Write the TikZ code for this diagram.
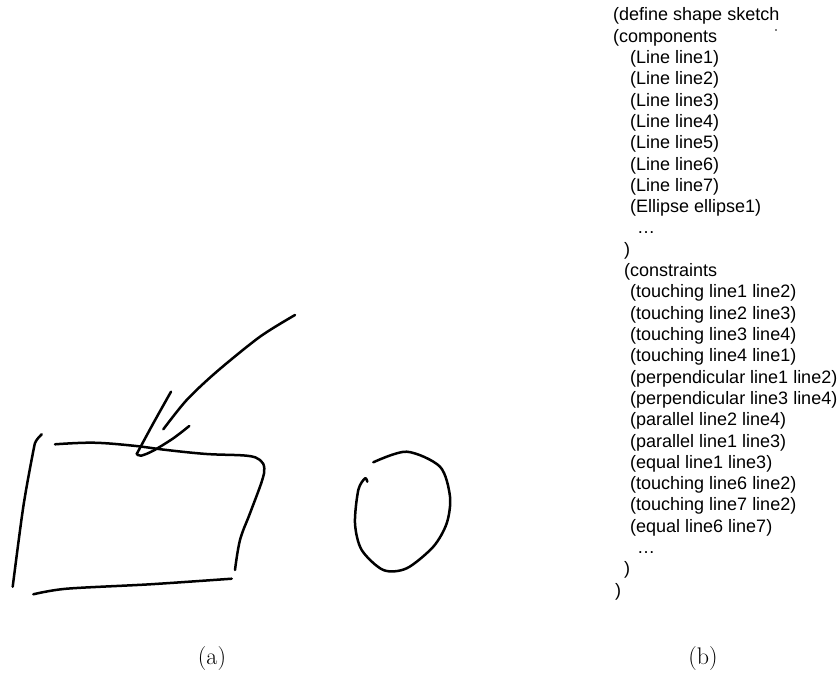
\documentclass[tikz,border=0pt]{standalone}
\usepackage{fontspec}
\newfontfamily\codefont{Liberation Sans}
\begin{document}
\begin{tikzpicture}[x=1pt,y=-1pt,
  ink/.style={line width=2.5pt, line cap=round, line join=round},
  codeline/.style={anchor=base west, inner sep=0pt, font=\codefont\fontsize{18}{21}\selectfont},
  caption/.style={anchor=base, inner sep=0pt, font=\fontsize{24}{28}\selectfont}]
\useasboundingbox (0,0) rectangle (840,692);
% ---- sketch (a) ----
% left side
\draw[ink] plot[smooth] coordinates {(41.7,434.3) (36,441) (33.3,451) (23.3,506.7) (12.7,586.7)};
% top side and right side
\draw[ink] plot[smooth, tension=0.6] coordinates {(55,444.3) (93.3,442.7) (133.3,445.7) (166.7,450) (206.7,454) (246.7,455.7) (260,460) (264.3,468.3) (261.7,481.7) (250,513.3) (240,540) (235,570)};
% bottom side
\draw[ink] plot[smooth] coordinates {(33.3,594.3) (66.7,588.7) (150,584.3) (231.7,578.7)};
% arrow shaft
\draw[ink] plot[smooth] coordinates {(295,315) (260,336.7) (216.7,371.7) (186.7,400) (163.3,429.3)};
% arrow head
\draw[ink] plot[smooth] coordinates {(171,391.7) (153.3,423.3) (136.7,454)};
\draw[ink] plot[smooth] coordinates {(136.7,454) (141,455.7) (153.3,450.7) (173.3,438.3) (189.3,426)};
% ellipse stroke
\draw[ink] plot[smooth] coordinates {(373.3,462.3) (406.7,451.7) (440,466.7) (450,496.7) (446.7,523.3) (433.3,546.7) (406.7,568.3) (383.3,570) (361.7,550) (355,523.3) (358.3,490) (365,478.3) (367.3,481.7)};
% small speck in the scan
\fill (776,30) circle (0.8);
% ---- text (b) ----
\node[codeline] (t1)  at (613,21.0)  {(define shape sketch};
\node[codeline] (t2)  at (613,42.3)  {(components};
\node[codeline] (t3)  at (630,63.6)  {(Line line1)};
\node[codeline] (t4)  at (630,84.9)  {(Line line2)};
\node[codeline] (t5)  at (630,106.2) {(Line line3)};
\node[codeline] (t6)  at (630,127.5) {(Line line4)};
\node[codeline] (t7)  at (630,148.8) {(Line line5)};
\node[codeline] (t8)  at (630,170.1) {(Line line6)};
\node[codeline] (t9)  at (630,191.4) {(Line line7)};
\node[codeline] (t10) at (630,212.7) {(Ellipse ellipse1)};
\node[codeline] (t11) at (637,234.0) {\dots};
\node[codeline] (t12) at (624,255.3) {)};
\node[codeline] (t13) at (624,276.6) {(constraints};
\node[codeline] (t14) at (630,297.9) {(touching line1 line2)};
\node[codeline] (t15) at (630,319.2) {(touching line2 line3)};
\node[codeline] (t16) at (630,340.5) {(touching line3 line4)};
\node[codeline] (t17) at (630,361.8) {(touching line4 line1)};
\node[codeline] (t18) at (630,383.1) {(perpendicular line1 line2)};
\node[codeline] (t19) at (630,404.4) {(perpendicular line3 line4)};
\node[codeline] (t20) at (630,425.7) {(parallel line2 line4)};
\node[codeline] (t21) at (630,447.0) {(parallel line1 line3)};
\node[codeline] (t22) at (630,468.3) {(equal line1 line3)};
\node[codeline] (t23) at (630,489.6) {(touching line6 line2)};
\node[codeline] (t24) at (630,510.9) {(touching line7 line2)};
\node[codeline] (t25) at (630,532.2) {(equal line6 line7)};
\node[codeline] (t26) at (637,553.5) {\dots};
\node[codeline] (t27) at (624,574.8) {)};
\node[codeline] (t28) at (615,596.1) {)};
% ---- captions ----
\node[caption] (capa) at (212,664) {(a)};
\node[caption] (capb) at (703,664) {(b)};
\end{tikzpicture}
\end{document}
